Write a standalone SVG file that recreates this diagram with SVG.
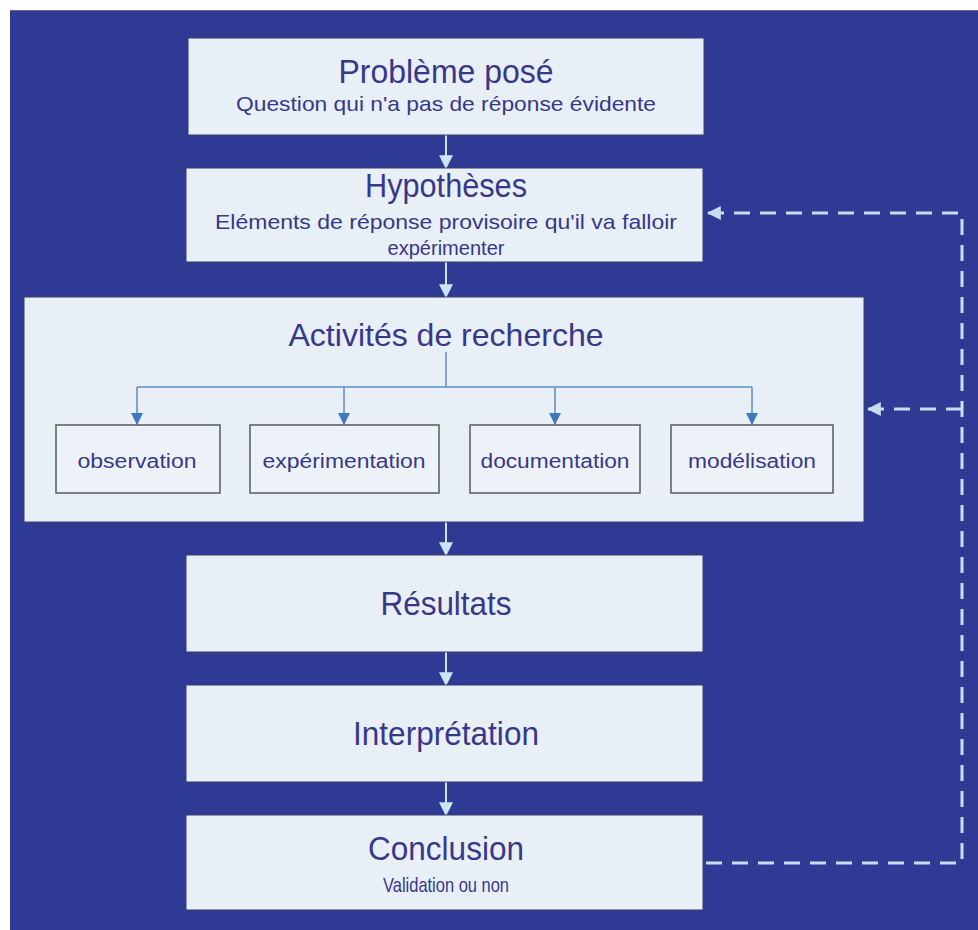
<svg xmlns="http://www.w3.org/2000/svg" width="978" height="930" viewBox="0 0 978 930">
<style>
.bg{fill:#2F3A94}
.box{fill:#E9EFF7;stroke:#3a3f6a;stroke-width:1}
.sub{fill:#EDF2F8;stroke:#5a5a5a;stroke-width:1.5}
text{font-family:"Liberation Sans",Arial,sans-serif;fill:#38388A;text-anchor:middle}
.t{font-size:33px}
.s{font-size:21px}
.l{font-size:20px}
.flow{stroke:#C8E6F7;stroke-width:2;fill:none}
.tree{stroke:#5B8CC8;stroke-width:1.5;fill:none}
.dash{stroke:#C8DDF0;stroke-width:3;fill:none;stroke-dasharray:16 10}
</style>
<defs>
<marker id="ah" viewBox="0 0 12 12" refX="11" refY="6" markerWidth="14" markerHeight="14" markerUnits="userSpaceOnUse" orient="auto">
<path d="M0,0 L12,6 L0,12 Z" fill="#C8E6F7"/>
</marker>
<marker id="ahb" viewBox="0 0 10 10" refX="10" refY="5" markerWidth="12" markerHeight="12" markerUnits="userSpaceOnUse" orient="auto">
<path d="M0,0 L10,5 L0,10 Z" fill="#3E78BE"/>
</marker>
<marker id="ahd" viewBox="0 0 12 12" refX="11" refY="6" markerWidth="14" markerHeight="14" markerUnits="userSpaceOnUse" orient="auto">
<path d="M0,0 L12,6 L0,12 Z" fill="#C8DDF0"/>
</marker>
</defs>
<rect x="0" y="0" width="978" height="930" fill="#ffffff"/>
<rect class="bg" x="10" y="10" width="968" height="920"/>
<line x1="10" y1="10.5" x2="978" y2="10.5" stroke="#6a6a7a" stroke-width="1"/>

<g id="connectors">
<line class="flow" x1="446" y1="135" x2="446" y2="168" marker-end="url(#ah)"/>
<line class="flow" x1="446" y1="262" x2="446" y2="297" marker-end="url(#ah)"/>
<line class="flow" x1="446" y1="522" x2="446" y2="555" marker-end="url(#ah)"/>
<line class="flow" x1="446" y1="652" x2="446" y2="685" marker-end="url(#ah)"/>
<line class="flow" x1="446" y1="782" x2="446" y2="815" marker-end="url(#ah)"/>
<polyline class="dash" points="706,863 962,863 962,213 708,213" marker-end="url(#ahd)"/>
<line class="dash" x1="962" y1="409" x2="868" y2="409" marker-end="url(#ahd)"/>
</g>

<g id="probleme">
<rect class="box" x="188" y="38" width="516" height="97"/>
<text class="t" x="446" y="83" textLength="215" lengthAdjust="spacingAndGlyphs">Problème posé</text>
<text class="s" x="446" y="111" textLength="420" lengthAdjust="spacingAndGlyphs">Question qui n'a pas de réponse évidente</text>
</g>

<g id="hypotheses">
<rect class="box" x="186" y="168" width="517" height="94"/>
<text class="t" x="446" y="197" textLength="162" lengthAdjust="spacingAndGlyphs">Hypothèses</text>
<text class="s" x="446" y="229" textLength="462" lengthAdjust="spacingAndGlyphs">Eléments de réponse provisoire qu'il va falloir</text>
<text class="s" x="446" y="255" textLength="117" lengthAdjust="spacingAndGlyphs">expérimenter</text>
</g>

<g id="activites">
<rect class="box" x="24" y="297" width="840" height="225"/>
<text x="446" y="346" font-size="32" textLength="315" lengthAdjust="spacingAndGlyphs">Activités de recherche</text>
<g class="tree-lines">
<polyline class="tree" points="446,352 446,387"/>
<polyline class="tree" points="137,387 752,387"/>
<line class="tree" x1="137" y1="387" x2="137" y2="425" marker-end="url(#ahb)"/>
<line class="tree" x1="344" y1="387" x2="344" y2="425" marker-end="url(#ahb)"/>
<line class="tree" x1="555" y1="387" x2="555" y2="425" marker-end="url(#ahb)"/>
<line class="tree" x1="752" y1="387" x2="752" y2="425" marker-end="url(#ahb)"/>
</g>
</g>

<g id="observation">
<rect class="sub" x="56" y="425" width="164" height="68"/>
<text class="l" x="137" y="468" textLength="119" lengthAdjust="spacingAndGlyphs">observation</text>
</g>
<g id="experimentation">
<rect class="sub" x="250" y="425" width="189" height="68"/>
<text class="l" x="344" y="468" textLength="163" lengthAdjust="spacingAndGlyphs">expérimentation</text>
</g>
<g id="documentation">
<rect class="sub" x="470" y="425" width="170" height="68"/>
<text class="l" x="555" y="468" textLength="149" lengthAdjust="spacingAndGlyphs">documentation</text>
</g>
<g id="modelisation">
<rect class="sub" x="671" y="425" width="162" height="68"/>
<text class="l" x="752" y="468" textLength="128" lengthAdjust="spacingAndGlyphs">modélisation</text>
</g>

<g id="resultats">
<rect class="box" x="186" y="555" width="517" height="97"/>
<text class="t" x="446" y="615" textLength="131" lengthAdjust="spacingAndGlyphs">Résultats</text>
</g>

<g id="interpretation">
<rect class="box" x="186" y="685" width="517" height="97"/>
<text class="t" x="446" y="745" textLength="186" lengthAdjust="spacingAndGlyphs">Interprétation</text>
</g>

<g id="conclusion">
<rect class="box" x="186" y="815" width="517" height="95"/>
<text class="t" x="446" y="860" textLength="156" lengthAdjust="spacingAndGlyphs">Conclusion</text>
<text x="446" y="892" font-size="21" textLength="126" lengthAdjust="spacingAndGlyphs">Validation ou non</text>
</g>
</svg>
